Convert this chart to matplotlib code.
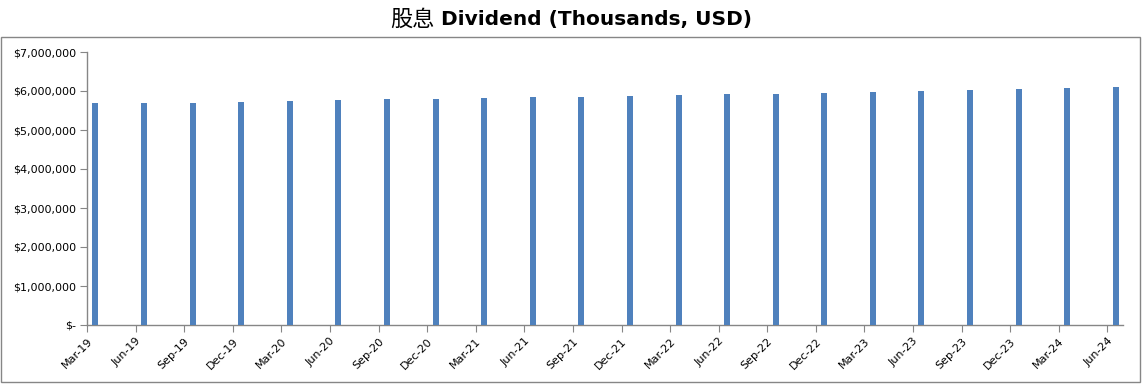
import numpy as np
import matplotlib.pyplot as plt
from matplotlib.patches import Rectangle
from matplotlib.ticker import FuncFormatter

# Quarter labels and dividend values (thousands of USD)
quarters = ["Mar-19", "Jun-19", "Sep-19", "Dec-19", "Mar-20", "Jun-20",
            "Sep-20", "Dec-20", "Mar-21", "Jun-21", "Sep-21", "Dec-21",
            "Mar-22", "Jun-22", "Sep-22", "Dec-22", "Mar-23", "Jun-23",
            "Sep-23", "Dec-23", "Mar-24", "Jun-24"]
dividend = [5700000, 5700000, 5700000, 5720000, 5745000, 5770000,
            5795000, 5795000, 5820000, 5845000, 5845000, 5870000,
            5900000, 5925000, 5925000, 5950000, 5975000, 6000000,
            6025000, 6050000, 6075000, 6090000]
y_ticks = [0, 1000000, 2000000, 3000000, 4000000, 5000000, 6000000, 7000000]

plt.rcParams["font.family"] = ["DejaVu Sans", "Noto Sans CJK SC"]

fig = plt.figure(figsize=(11.43, 3.87), dpi=100)
ax = fig.add_axes([87 / 1143, 1 - 325 / 387, (1123 - 87) / 1143, (325 - 52) / 387])

# outer chart border
fig.add_artist(Rectangle((1 / 1143, 5 / 387), 1139 / 1143, 345 / 387,
                         transform=fig.transFigure, fill=False,
                         edgecolor="#868686", linewidth=1.0))

x = np.arange(len(quarters))
ax.bar(x + 0.173, dividend, width=0.124, color="#4F81BD", zorder=3)

ax.set_xlim(0, 21.32)
ax.set_ylim(0, 7000000)
ax.set_yticks(y_ticks)
ax.yaxis.set_major_formatter(
    FuncFormatter(lambda v, _: "$-" if v == 0 else f"${v:,.0f}"))
ax.set_xticks(x)
ax.set_xticklabels(quarters, rotation=45, ha="right", rotation_mode="anchor",
                   fontsize=8)
ax.tick_params(axis="y", labelsize=8, length=5, color="#868686", pad=3)
ax.tick_params(axis="x", length=5, color="#868686", pad=3)

for side in ("top", "right"):
    ax.spines[side].set_visible(False)
for side in ("left", "bottom"):
    ax.spines[side].set_color("#868686")
    ax.spines[side].set_linewidth(1.0)

# title: Chinese part regular, English part bold
t_cn = fig.text(390 / 1143, 1 - 19 / 387, "股息", ha="left", va="center",
                fontsize=16, family=["Noto Sans CJK SC"])
ax.annotate(" Dividend (Thousands, USD)", xy=(1, 0.5), xycoords=t_cn,
            ha="left", va="center", fontsize=14.5, fontweight="bold",
            family=["DejaVu Sans"], annotation_clip=False)

fig.savefig("out.png", dpi=100)
